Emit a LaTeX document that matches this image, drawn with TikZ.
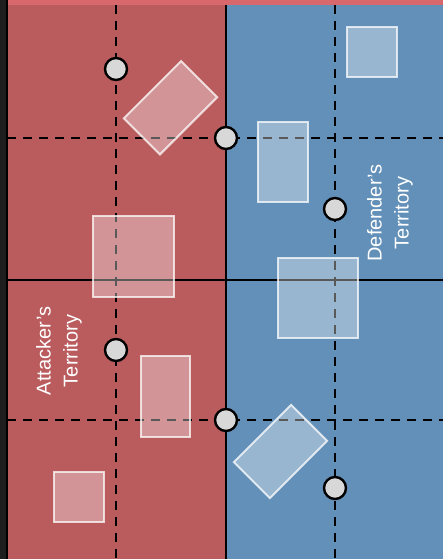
\documentclass[tikz,border=0pt]{standalone}
\usepackage{fontspec}
\setmainfont{Liberation Sans}
\definecolor{redzone}{RGB}{186,92,94}
\definecolor{bluezone}{RGB}{99,144,184}
\definecolor{topband}{RGB}{217,104,108}
\definecolor{darkedge}{RGB}{30,30,30}
\definecolor{dotfill}{RGB}{216,216,216}
\begin{document}
\begin{tikzpicture}[x=1pt,y=-1pt,
  gridline/.style={line width=2.2pt,dash pattern=on 9pt off 7pt},
  solidline/.style={line width=2.2pt},
  piece/.style={draw=white,draw opacity=0.75,fill=white,fill opacity=0.35,line width=2pt,inner sep=0pt,outer sep=0pt},
  dot/.style={circle,draw=black,fill=dotfill,line width=2.4pt,minimum size=22pt,inner sep=0pt},
  label/.style={text=white,rotate=90,align=center,font=\fontsize{20}{27}\selectfont}]
\useasboundingbox (0,0) rectangle (443,559);
% backgrounds
\fill[darkedge] (0,0) rectangle (7,559);
\fill[redzone] (7,0) rectangle (226,559);
\fill[bluezone] (226,0) rectangle (443,559);
\fill[topband] (7,0) rectangle (443,5);
% coordinates
\coordinate (vL) at (116,5);  \coordinate (vLb) at (116,559);
\coordinate (vR) at (335,5);  \coordinate (vRb) at (335,559);
\coordinate (hT) at (7,138);  \coordinate (hTe) at (443,138);
\coordinate (hB) at (7,420);  \coordinate (hBe) at (443,420);
\coordinate (mid) at (226,5); \coordinate (midb) at (226,559);
\coordinate (hM) at (7,280);  \coordinate (hMe) at (443,280);
\coordinate (edge) at (7,0);  \coordinate (edgeb) at (7,559);
% lines
\draw[gridline] (vL) -- (vLb);
\draw[gridline] (vR) -- (vRb);
\draw[gridline] (hT) -- (hTe);
\draw[gridline] (hB) -- (hBe);
\draw[solidline] (mid) -- (midb);
\draw[solidline] (hM) -- (hMe);
\draw[solidline] (edge) -- (edgeb);
% pieces
\node[piece,minimum width=81pt,minimum height=51pt,rotate=45] (p1) at (170.5,107.8) {};
\node[piece,minimum width=50pt,minimum height=50pt] (p2) at (372,52) {};
\node[piece,minimum width=50pt,minimum height=80pt] (p3) at (283,162) {};
\node[piece,minimum width=81pt,minimum height=81pt] (p4) at (133,256) {};
\node[piece,minimum width=80pt,minimum height=80pt] (p5) at (318,298) {};
\node[piece,minimum width=49pt,minimum height=81pt] (p6) at (165.5,396.5) {};
\node[piece,minimum width=81pt,minimum height=51pt,rotate=45] (p7) at (280.5,451.5) {};
\node[piece,minimum width=50pt,minimum height=50pt] (p8) at (79,497) {};
% dots
\node[dot] (d1) at (116,69) {};
\node[dot] (d2) at (226,138) {};
\node[dot] (d3) at (335,209) {};
\node[dot] (d4) at (116,350) {};
\node[dot] (d5) at (226,420) {};
\node[dot] (d6) at (335,488) {};
% labels
\node[label] (att) at (59,351) {Attacker’s\\Territory};
\node[label] (def) at (390,213) {Defender’s\\Territory};
\end{tikzpicture}
\end{document}
